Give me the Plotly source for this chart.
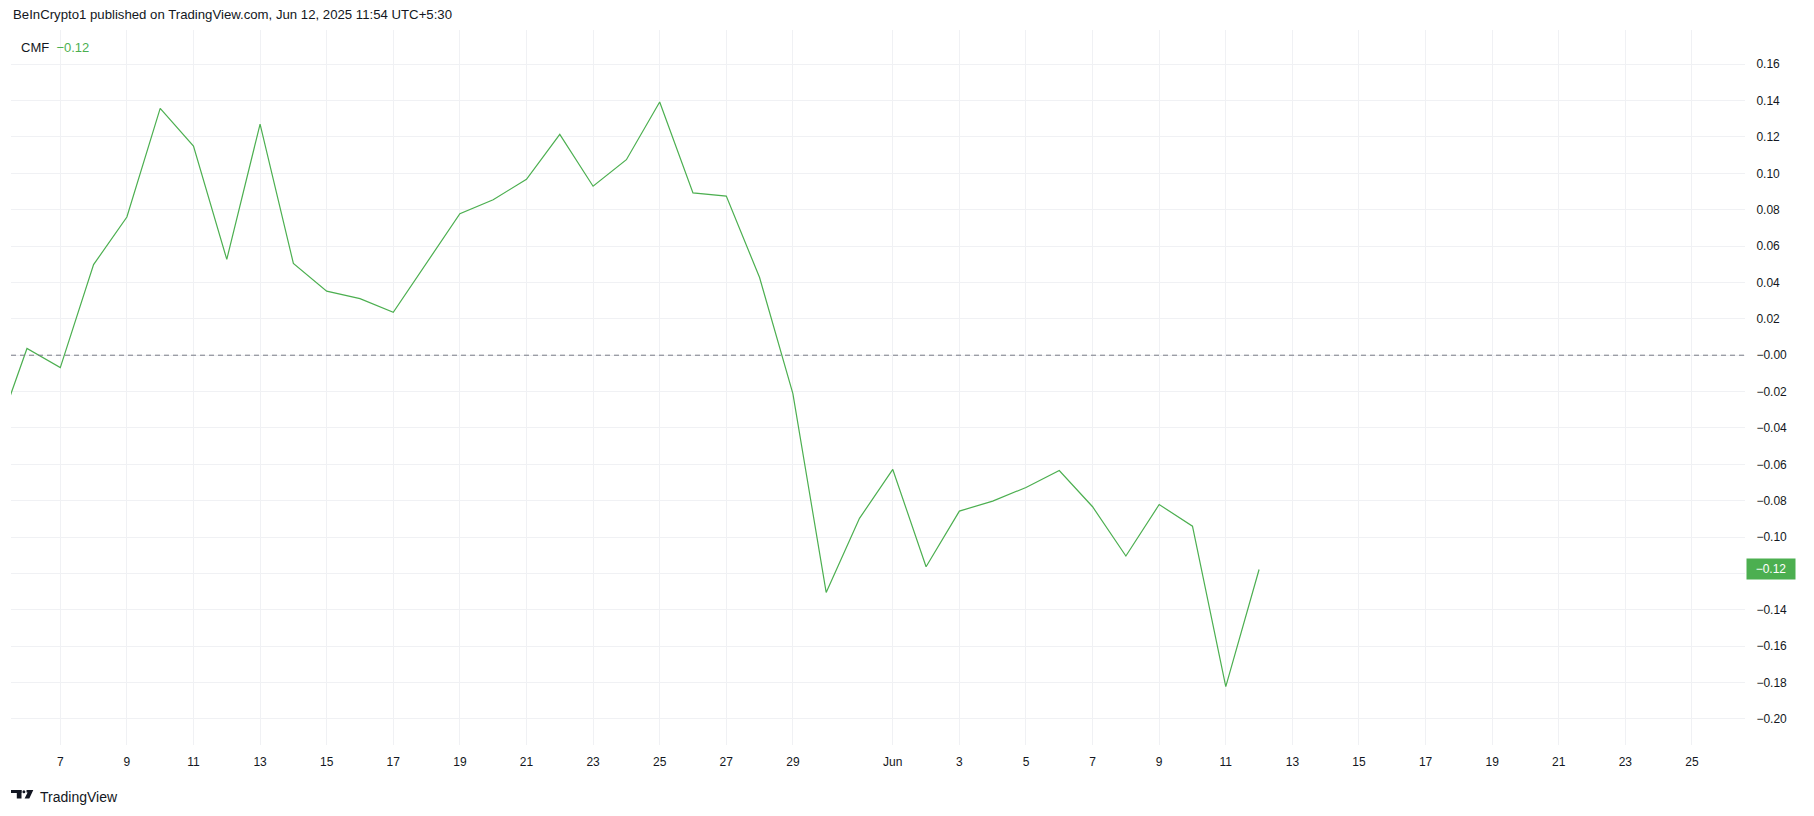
import plotly.graph_objects as go

# ---------------- data ----------------
dates = [
    "2025-05-05", "2025-05-06", "2025-05-07", "2025-05-08", "2025-05-09", "2025-05-10",
    "2025-05-11", "2025-05-12", "2025-05-13", "2025-05-14", "2025-05-15", "2025-05-16",
    "2025-05-17", "2025-05-18", "2025-05-19", "2025-05-20", "2025-05-21", "2025-05-22",
    "2025-05-23", "2025-05-24", "2025-05-25", "2025-05-26", "2025-05-27", "2025-05-28",
    "2025-05-29", "2025-05-30", "2025-05-31", "2025-06-01", "2025-06-02", "2025-06-03",
    "2025-06-04", "2025-06-05", "2025-06-06", "2025-06-07", "2025-06-08", "2025-06-09",
    "2025-06-10", "2025-06-11", "2025-06-12",
]
cmf = [
    -0.048, 0.0037, -0.0068, 0.0498, 0.0760, 0.1357,
    0.1150, 0.0527, 0.1271, 0.0505, 0.0352, 0.0311,
    0.0236, 0.0510, 0.0778, 0.0855, 0.0967, 0.1214,
    0.0929, 0.1075, 0.1392, 0.0892, 0.0875, 0.0427,
    -0.0211, -0.1304, -0.0897, -0.0628, -0.1163, -0.0857,
    -0.0802, -0.0727, -0.0634, -0.0833, -0.1104, -0.0821,
    -0.0940, -0.1822, -0.1178,
]
x_tick_vals = [
    "2025-05-07", "2025-05-09", "2025-05-11", "2025-05-13", "2025-05-15", "2025-05-17",
    "2025-05-19", "2025-05-21", "2025-05-23", "2025-05-25", "2025-05-27", "2025-05-29",
    "2025-06-01", "2025-06-03", "2025-06-05", "2025-06-07", "2025-06-09", "2025-06-11",
    "2025-06-13", "2025-06-15", "2025-06-17", "2025-06-19", "2025-06-21", "2025-06-23",
    "2025-06-25",
]
x_tick_text = [
    "7", "9", "11", "13", "15", "17", "19", "21", "23", "25", "27", "29",
    "Jun", "3", "5", "7", "9", "11", "13", "15", "17", "19", "21", "23", "25",
]
y_tick_vals = [0.16, 0.14, 0.12, 0.10, 0.08, 0.06, 0.04, 0.02, 0.00,
               -0.02, -0.04, -0.06, -0.08, -0.10, -0.12, -0.14, -0.16, -0.18, -0.20]
header = "BeInCrypto1 published on TradingView.com, Jun 12, 2025 11:54 UTC+5:30"
indicator_name = "CMF"


def fmt(v):
    s = f"{abs(v):.2f}"
    return ("\u2212" + s) if (v < 0 or s == "0.00") else s


last_text = fmt(cmf[-1])
# the price-scale label of the last value hides the tick label it covers
y_tick_text = ["" if abs(v - cmf[-1]) < 0.01 else fmt(v) for v in y_tick_vals]

# ---------------- layout geometry (page pixels; body has an 8px margin) ----------------
OFF = 8
W, H = 1814 - OFF, 816 - OFF
PLOT_L, PLOT_R, PLOT_T, PLOT_B = 11, 1745, 30, 745  # page pixels
ML, MT = PLOT_L - OFF, PLOT_T - OFF
MR, MB = (W + OFF) - PLOT_R, (H + OFF) - PLOT_B
PW, PH = PLOT_R - PLOT_L, PLOT_B - PLOT_T


def px(xp):
    return (xp - PLOT_L) / PW


def py(yp):
    return (PLOT_B - yp) / PH


GREEN = "#4caf50"
TEXT = "#131722"
GRID = "#f0f1f4"
FONT = "Liberation Sans, Arial, sans-serif"

fig = go.Figure()
fig.add_trace(go.Scatter(
    x=dates, y=cmf, mode="lines",
    line=dict(color=GREEN, width=1.2),
    hoverinfo="skip", showlegend=False,
))

# zero dashed line
fig.add_hline(y=0, line=dict(color="#787b86", width=1, dash="5px,4px"))

shapes = [
    # pane frame
    dict(type="rect", xref="paper", yref="paper", layer="below",
         x0=px(11), x1=px(1803), y0=py(777), y1=py(30),
         line=dict(color="#e9ecf1", width=2), fillcolor="rgba(0,0,0,0)"),
    # TradingView logo: T
    dict(type="rect", xref="paper", yref="paper", x0=px(11), x1=px(21.5), y0=py(793), y1=py(790),
         line=dict(width=0), fillcolor=TEXT),
    dict(type="rect", xref="paper", yref="paper", x0=px(16.8), x1=px(21.5), y0=py(798.5), y1=py(790),
         line=dict(width=0), fillcolor=TEXT),
    # dot
    dict(type="circle", xref="paper", yref="paper", x0=px(22.4), x1=px(25.4), y0=py(793.3), y1=py(790.3),
         line=dict(width=0), fillcolor=TEXT),
    # slash
    dict(type="path", xref="paper", yref="paper",
         path=(f"M {px(26.5)},{py(790)} L {px(33.3)},{py(790)} L {px(29.3)},{py(798.5)} "
               f"L {px(24.6)},{py(798.5)} L {px(27.6)},{py(792.6)} L {px(26.5)},{py(792.6)} Z"),
         line=dict(width=0), fillcolor=TEXT),
]

annotations = [
    dict(xref="paper", yref="paper", x=px(11), y=py(15), xanchor="left", yanchor="middle",
         text=header, showarrow=False, font=dict(family=FONT, size=13.2, color=TEXT)),
    dict(xref="paper", yref="paper", x=px(19), y=py(47), xanchor="left", yanchor="middle",
         text=f"{indicator_name}&nbsp;&nbsp;<span style='color:{GREEN}'>{last_text}</span>",
         showarrow=False, font=dict(family=FONT, size=13, color=TEXT)),
    dict(xref="paper", yref="paper", x=px(38), y=py(797), xanchor="left", yanchor="middle",
         text="TradingView", showarrow=False, font=dict(family=FONT, size=14, color=TEXT)),
    # last value label on price scale
    dict(xref="paper", yref="y", x=1, y=cmf[-1], xanchor="left", yanchor="middle",
         xshift=1, text=last_text, showarrow=False, bgcolor=GREEN, borderpad=3,
         width=42, align="center",
         font=dict(family=FONT, size=12, color="white")),
]

fig.update_layout(
    width=W, height=H,
    margin=dict(l=ML, r=MR, t=MT, b=MB, autoexpand=False),
    paper_bgcolor="white", plot_bgcolor="rgba(0,0,0,0)",
    font=dict(family=FONT, size=12, color=TEXT),
    shapes=shapes, annotations=annotations,
    hovermode=False,
)
fig.update_xaxes(
    type="date",
    range=["2025-05-05 12:29", "2025-06-26 14:13"],
    tickmode="array", tickvals=x_tick_vals, ticktext=x_tick_text,
    showgrid=True, gridcolor=GRID, gridwidth=1,
    zeroline=False, showline=False,
    ticks="outside", ticklen=6, tickcolor="rgba(0,0,0,0)",
    tickfont=dict(family=FONT, size=12, color=TEXT),
    fixedrange=True,
)
fig.update_yaxes(
    side="right",
    range=[-0.2143, 0.1788],
    tickmode="array", tickvals=y_tick_vals, ticktext=y_tick_text,
    showgrid=True, gridcolor=GRID, gridwidth=1,
    zeroline=False, showline=False,
    ticks="outside", ticklen=8, tickcolor="rgba(0,0,0,0)",
    tickfont=dict(family=FONT, size=12, color=TEXT),
    fixedrange=True,
)

fig.write_html("out.html")
